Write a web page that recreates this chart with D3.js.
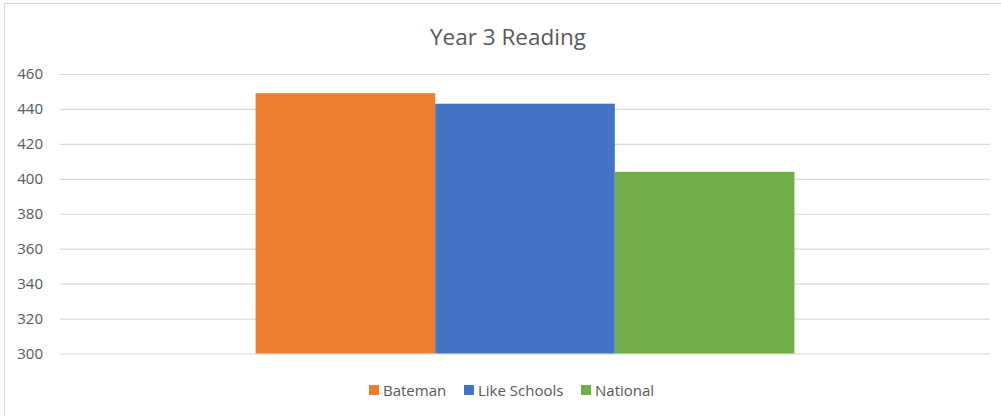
<!DOCTYPE html>
<html>
<head>
<meta charset="utf-8">
<script src="https://cdn.jsdelivr.net/npm/d3@7"></script>
<style>
  body { margin: 0; background: #fff; }
  text { font-family: "Open Sans", "Noto Sans", sans-serif; fill: #595959; }
</style>
</head>
<body>
<div id="chart"></div>
<script>
// chart data
const title = "Year 3 Reading"
const series = ["Bateman", "Like Schools", "National"]
const values = [449, 443, 404]
const colors = ["#ed7d31", "#4472c4", "#70ad47"]
const y_ticks = [300, 320, 340, 360, 380, 400, 420, 440, 460]

// layout consts
const width = 1001
const height = 416
const plot = { left: 60, right: 990, top: 74, bottom: 353.5 }

function setup_svg(){
    var svg = d3.select("#chart").append("svg")
        .attr("width", width)
        .attr("height", height)
    // chart border (only top and left show inside the picture)
    svg.append("path")
        .attr("d", "M4.5," + height + "V3.5H" + width)
        .attr("fill", "none")
        .attr("stroke", "#d9d9d9")
    return svg
}

const y = d3.scaleLinear().domain([300, 460]).range([plot.bottom, plot.top])
// one category, three series side by side; gap width ~218%
const x_outer = d3.scaleBand().domain(["Reading"]).range([plot.left, plot.right]).paddingInner(0).paddingOuter(0.363)
const x = d3.scaleBand().domain(series).range([x_outer("Reading"), x_outer("Reading") + x_outer.bandwidth()])

function draw_grid(svg){
    svg.append("g")
        .attr("transform", "translate(" + plot.left + ",0)")
        .call(d3.axisLeft(y).tickValues(y_ticks).tickSize(-(plot.right - plot.left)).tickPadding(17))
        .call(g => g.select(".domain").remove())
        .call(g => g.selectAll(".tick line").attr("stroke", "#d9d9d9").attr("stroke-width", 1.2))
        .call(g => g.selectAll(".tick text")
            .attr("font-family", "'Open Sans', 'Noto Sans', sans-serif")
            .attr("font-size", 15).attr("fill", "#595959"))
}

function draw_bars(svg){
    svg.selectAll("rect.bar")
        .data(series)
        .enter().append("rect")
        .attr("class", "bar")
        .attr("x", d => x(d))
        .attr("width", x.bandwidth())
        .attr("y", (d, i) => y(values[i]))
        .attr("height", (d, i) => y(300) - y(values[i]))
        .attr("fill", (d, i) => colors[i])
}

function draw_title(svg){
    svg.append("text")
        .attr("x", 508)
        .attr("y", 45)
        .attr("text-anchor", "middle")
        .attr("font-size", 22.5)
        .text(title)
}

// legend item x positions
const legend_x = [369, 464, 581]
function draw_legend(svg){
    var items = svg.selectAll("g.legend")
        .data(series)
        .enter().append("g")
        .attr("class", "legend")
        .attr("transform", (d, i) => "translate(" + legend_x[i] + ",385)")
    items.append("rect")
        .attr("width", 10).attr("height", 10)
        .attr("fill", (d, i) => colors[i])
    items.append("text")
        .attr("x", 14).attr("y", 10.5)
        .attr("font-size", 15)
        .text(d => d)
}

var svg = setup_svg()
draw_grid(svg)
draw_bars(svg)
draw_title(svg)
draw_legend(svg)
</script>
</body>
</html>
